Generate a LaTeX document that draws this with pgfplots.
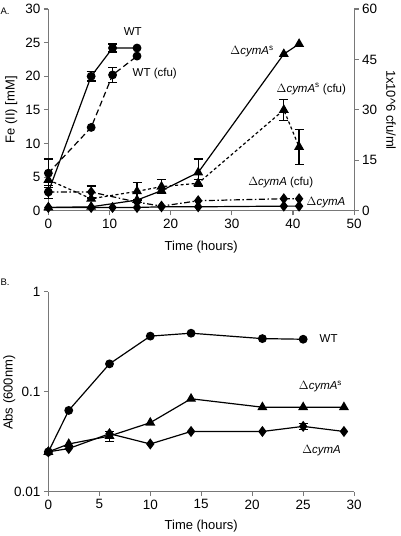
\documentclass[border=0pt]{standalone}
\usepackage{fontspec}
\setmainfont{Liberation Sans}
\usepackage{pgfplots}
\pgfplotsset{compat=1.18}
\definecolor{axgray}{RGB}{120,120,120}
\tikzset{lab/.style={font=\fontsize{11.5}{13}\selectfont, anchor=center}}
\pgfplotsset{
  base/.style={
    scale only axis,
    /pgf/number format/assume math mode=true,
    tick label style={font=\fontsize{13.5}{15}\selectfont},
    axis line style={axgray, line width=1.1pt, -},
    tick style={axgray, line width=1.1pt},
    tick align=outside,
    major tick length=4.5pt,
    minor tick num=0,
    clip=false,
  },
  ln/.style={black, line width=1.2pt},
  eb/.style={black, forget plot, only marks, mark=none,
    error bars/.cd, y dir=both, y explicit,
    error bar style={line width=1.2pt, black},
    error mark options={rotate=90, mark size=4.5pt, line width=1.2pt, black}},
  circ/.style={mark=*, mark size=3.8pt, mark options={solid, fill=black}},
  tri/.style={mark=triangle*, mark size=4.6pt, mark options={solid, fill=black}},
  dia/.style={mark=diamond*, mark size=4.6pt, mark options={solid, fill=black}},
}
\newcommand{\dc}{$\Delta$\textit{cymA}}
\begin{document}
\begin{tikzpicture}
\path (0,0) rectangle (400pt,536pt);
% ---------------- Panel A, left axis ----------------
\begin{axis}[base,
  at={(48pt,325pt)}, anchor=south west,
  width=306pt, height=202pt,
  xmin=0, xmax=50, ymin=0, ymax=30,
  axis x line*=bottom, axis y line*=left,
  xtick={0,10,20,30,40,50}, ytick={0,5,10,15,20,25,30},
]
% WT Fe(II)
\addplot[ln, circ] coordinates {(0,2.8) (7,20) (10.5,24.2) (14.5,24.2)};
\addplot[eb] coordinates {(7,20) +- (0,0.7) (10.5,24.2) +- (0,0.6)};
% dcymAs Fe(II)
\addplot[ln, tri] coordinates {(0,0.5) (7,0.6) (14.5,1.6) (18.5,3.0) (24.5,5.7) (38.5,23.3) (41,24.8)};
\addplot[eb] coordinates {(24.5,5.7) +- (0,2.0)};
% dcymA Fe(II)
\addplot[ln, dia] coordinates {(0,0.5) (7,0.5) (10.5,0.5) (14.5,0.5) (18.5,0.6) (24.5,0.6) (38.5,0.7) (41,0.7)};
\node[lab] at (axis cs:13.8,26.6) {WT};
\node[lab] at (axis cs:17.4,20.4) {WT (cfu)};
\node[lab] at (axis cs:33.3,23.7) {\dc\textsuperscript{s}};
\node[lab] at (axis cs:43.0,18.1) {\dc\textsuperscript{s} (cfu)};
\node[lab] at (axis cs:38.0,4.2) {\dc{} (cfu)};
\node[lab] at (axis cs:45.4,1.2) {\dc};
\end{axis}
% ---------------- Panel A, right axis (cfu) ----------------
\begin{axis}[base,
  at={(48pt,325pt)}, anchor=south west,
  width=306pt, height=202pt,
  xmin=0, xmax=50, ymin=0, ymax=60,
  axis x line=none, axis y line*=right,
  ytick={0,15,30,45,60},
]
% WT cfu
\addplot[ln, circ, dash pattern=on 6pt off 3.5pt] coordinates {(0,11.2) (7,24.8) (10.5,40.4) (14.5,46.0)};
\addplot[eb] coordinates {(0,11.2) +- (0,4.2) (10.5,40.4) +- (0,2.2)};
% dcymAs cfu
\addplot[ln, tri, dash pattern=on 3pt off 2.5pt] coordinates {(0,9.2) (7,3.6) (14.5,5.8) (18.5,7.2) (24.5,8.2) (38.5,30) (41,19)};
\addplot[eb] coordinates {(14.5,5.8) +- (0,2.6) (18.5,7.2) +- (0,2.0) (24.5,8.2) +- (0,1.0) (38.5,30) +- (0,3.2) (41,19) +- (0,5.2)};
% dcymA cfu
\addplot[ln, dia, dash pattern=on 6pt off 2.5pt on 1.5pt off 2.5pt] coordinates {(0,5.6) (7,5.6) (14.5,2.6) (18.5,1.4) (24.5,3.0) (38.5,3.6) (41,3.6)};
\addplot[eb] coordinates {(0,5.6) +- (0,2.0) (7,5.6) +- (0,1.8)};
\end{axis}
\node[font=\fontsize{13}{15}\selectfont, rotate=90] at (11pt,426pt) {Fe (II) [mM]};
\node[font=\fontsize{13}{15}\selectfont, rotate=-90] at (391pt,426pt) {1x10\textasciicircum 6 cfu/ml};
\node[font=\fontsize{13}{15}\selectfont] at (201pt,289pt) {Time (hours)};
\node[font=\fontsize{9.5}{11}\selectfont, anchor=west, inner sep=0pt] at (0pt,525pt) {A.};
% ---------------- Panel B ----------------
\begin{axis}[base,
  at={(48pt,44pt)}, anchor=south west,
  width=306pt, height=200pt,
  xmin=0, xmax=30, ymin=0.01, ymax=1, ymode=log,
  axis x line*=bottom, axis y line*=left,
  xtick={0,5,10,15,20,25,30},
  ytick={0.01,0.1,1}, yticklabels={0.01,0.1,1},
  yminorticks=false,
]
\addplot[ln, circ] coordinates {(0,0.025) (2,0.065) (6,0.19) (10,0.36) (14,0.385) (21,0.34) (25,0.335)};
\addplot[ln, tri] coordinates {(0,0.025) (2,0.030) (6,0.036) (10,0.049) (14,0.085) (21,0.070) (25,0.070) (29,0.070)};
\addplot[eb] coordinates {(6,0.036) +- (0,0.004)};
\addplot[ln, dia] coordinates {(0,0.025) (2,0.027) (6,0.038) (10,0.030) (14,0.040) (21,0.040) (25,0.045) (29,0.040)};
\addplot[eb] coordinates {(25,0.045) +- (0,0.003)};
\node[lab] at (axis cs:27.5,0.34) {WT};
\node[lab] at (axis cs:26.7,0.113) {\dc\textsuperscript{s}};
\node[lab] at (axis cs:26.8,0.0259) {\dc};
\end{axis}
\node[font=\fontsize{13}{15}\selectfont, rotate=90] at (9pt,143pt) {Abs (600nm)};
\node[font=\fontsize{13}{15}\selectfont] at (201pt,9pt) {Time (hours)};
\node[font=\fontsize{9.5}{11}\selectfont, anchor=west, inner sep=0pt] at (0pt,254pt) {B.};
\end{tikzpicture}
\end{document}
